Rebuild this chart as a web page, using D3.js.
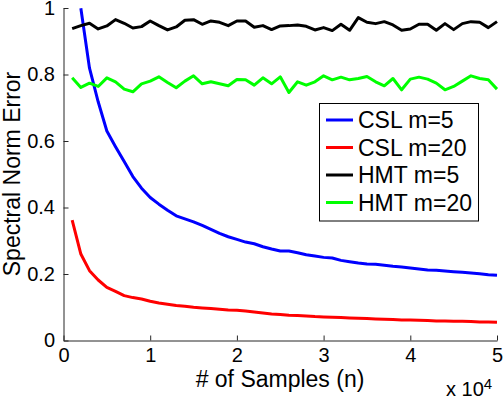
<!DOCTYPE html>
<html lang="en">
  <head>
    <meta charset="UTF-8" />
    <title>Spectral Norm Error</title>
    <script src="https://cdn.jsdelivr.net/npm/d3@7"></script>
    <style>
      body {
        padding: 0;
        margin: 0;
        background: #fff;
      }
      svg {
        display: block;
        font-family: "Liberation Sans", Arial, Helvetica, sans-serif;
      }
    </style>
  </head>
  <body>
    <div id="chart"></div>

    <script>
      // sample sizes 1000 .. 50000
      const samples = d3.range(1, 51).map((k) => k * 1000);

      // CSL m=5 starts at 2000 samples
      const cslM5 = [
        null, 0.999, 0.819, 0.718, 0.63, 0.583, 0.538, 0.493, 0.458, 0.43,
        0.41, 0.392, 0.375, 0.366, 0.357, 0.346, 0.334, 0.322, 0.312, 0.304,
        0.296, 0.291, 0.282, 0.275, 0.269, 0.269, 0.264, 0.258, 0.254, 0.25,
        0.248, 0.241, 0.237, 0.233, 0.23, 0.229, 0.226, 0.223, 0.221, 0.218,
        0.215, 0.212, 0.211, 0.209, 0.207, 0.205, 0.203, 0.201, 0.198, 0.196,
      ];
      const cslM20 = [
        0.362, 0.26, 0.21, 0.182, 0.16, 0.148, 0.135, 0.129, 0.125, 0.118,
        0.113, 0.109, 0.105, 0.103, 0.1, 0.098, 0.096, 0.094, 0.092, 0.091,
        0.089, 0.086, 0.083, 0.08, 0.078, 0.076, 0.075, 0.074, 0.072, 0.071,
        0.07, 0.069, 0.068, 0.067, 0.066, 0.065, 0.064, 0.063, 0.062, 0.062,
        0.061, 0.06, 0.059, 0.059, 0.058, 0.058, 0.057, 0.056, 0.056, 0.055,
      ];
      const hmtM5 = [
        0.938, 0.947, 0.954, 0.937, 0.946, 0.965, 0.954, 0.94, 0.944, 0.961,
        0.947, 0.934, 0.943, 0.963, 0.965, 0.951, 0.961, 0.957, 0.947, 0.961,
        0.961, 0.942, 0.947, 0.935, 0.946, 0.947, 0.949, 0.945, 0.934, 0.941,
        0.932, 0.951, 0.933, 0.971, 0.957, 0.953, 0.959, 0.949, 0.933, 0.937,
        0.951, 0.951, 0.933, 0.953, 0.935, 0.953, 0.959, 0.957, 0.941, 0.959,
      ];
      const hmtM20 = [
        0.79, 0.761, 0.774, 0.764, 0.79, 0.778, 0.756, 0.748, 0.772, 0.78,
        0.793, 0.776, 0.76, 0.78, 0.796, 0.772, 0.778, 0.772, 0.766, 0.785,
        0.784, 0.768, 0.79, 0.772, 0.793, 0.746, 0.778, 0.768, 0.778, 0.796,
        0.784, 0.792, 0.784, 0.788, 0.794, 0.778, 0.766, 0.788, 0.754, 0.786,
        0.792, 0.786, 0.774, 0.754, 0.764, 0.78, 0.796, 0.788, 0.784, 0.756,
      ];

      const seriesNames = ["CSL m=5", "CSL m=20", "HMT m=5", "HMT m=20"];
      const seriesColors = ["#0000ff", "#ff0000", "#000000", "#00ff00"];
      const seriesValues = [cslM5, cslM20, hmtM5, hmtM20];

      const xTicks = [0, 10000, 20000, 30000, 40000, 50000];
      const yTicks = [0, 0.2, 0.4, 0.6, 0.8, 1];

      const width = 504;
      const height = 398;

      const svg = d3
        .select("#chart")
        .append("svg")
        .attr("width", width)
        .attr("height", height);

      const x = d3.scaleLinear().domain([0, 50000]).range([63.5, 497]);
      const y = d3.scaleLinear().domain([0, 1]).range([340.5, 8]);

      svg
        .append("clipPath")
        .attr("id", "plotclip")
        .append("rect")
        .attr("x", x(0))
        .attr("y", y(1) - 2)
        .attr("width", x(50000) - x(0) + 3)
        .attr("height", y(0) - y(1) + 2);

      // axes, ticks pointing inward like matlab
      const xAxis = svg
        .append("g")
        .attr("transform", "translate(0," + y(0) + ")")
        .call(
          d3
            .axisBottom(x)
            .tickValues(xTicks)
            .tickFormat((d) => d / 10000)
            .tickSizeInner(-5)
            .tickSizeOuter(0)
            .tickPadding(7.5)
        );

      const yAxis = svg
        .append("g")
        .attr("transform", "translate(" + x(0) + ",0)")
        .call(
          d3
            .axisLeft(y)
            .tickValues(yTicks)
            .tickFormat((d) => String(d))
            .tickSizeInner(-5)
            .tickSizeOuter(0)
            .tickPadding(8.5)
        );

      [xAxis, yAxis].forEach((g) => {
        g.select(".domain").attr("stroke", "#262626");
        g.selectAll(".tick line").attr("stroke", "#262626");
        g.selectAll(".tick text")
          .attr("fill", "#000")
          .style("font-size", "20px")
          .style("font-family", "'Liberation Sans', Arial, sans-serif");
      });

      // lines
      const line = d3
        .line()
        .defined((d) => d[1] != null)
        .x((d) => x(d[0]))
        .y((d) => y(d[1]));

      svg
        .append("g")
        .attr("clip-path", "url(#plotclip)")
        .selectAll("path")
        .data(seriesValues)
        .enter()
        .append("path")
        .attr("d", (vals) => line(samples.map((n, i) => [n, vals[i]])))
        .attr("fill", "none")
        .attr("stroke", (d, i) => seriesColors[i])
        .attr("stroke-width", 3)
        .attr("stroke-linejoin", "round");

      // axis labels
      svg
        .append("text")
        .attr("x", 280)
        .attr("y", 387)
        .attr("text-anchor", "middle")
        .style("font-size", "23px")
        .text("# of Samples (n)");

      svg
        .append("text")
        .attr("transform", "translate(19.5,174) rotate(-90)")
        .attr("text-anchor", "middle")
        .style("font-size", "23px")
        .text("Spectral Norm Error");

      const expo = svg
        .append("text")
        .attr("x", 446)
        .attr("y", 396)
        .style("font-size", "20px");
      expo.append("tspan").text("x 10");
      expo
        .append("tspan")
        .attr("dy", -7)
        .style("font-size", "15px")
        .text("4");

      // legend
      const legend = svg.append("g");
      legend
        .append("rect")
        .attr("x", 319.5)
        .attr("y", 103.5)
        .attr("width", 159)
        .attr("height", 117.5)
        .attr("fill", "#fff")
        .attr("stroke", "#000")
        .attr("stroke-width", 1);

      const entry = legend
        .selectAll("g.entry")
        .data(seriesNames)
        .enter()
        .append("g")
        .attr("class", "entry")
        .attr("transform", (d, i) => "translate(0," + (120 + i * 27.5) + ")");

      entry
        .append("line")
        .attr("x1", 326)
        .attr("x2", 353)
        .attr("stroke", (d, i) => seriesColors[i])
        .attr("stroke-width", 3);

      entry
        .append("text")
        .attr("x", 358)
        .attr("y", 8.3)
        .style("font-size", "23px")
        .text((d) => d);
    </script>
  </body>
</html>
